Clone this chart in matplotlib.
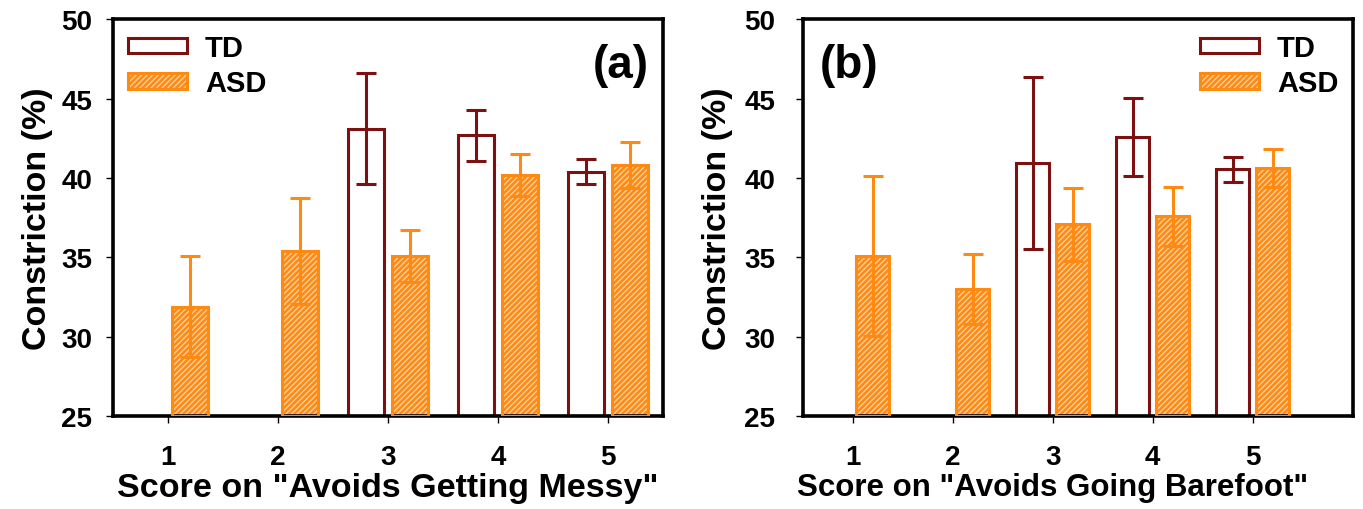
import numpy as np
import matplotlib
matplotlib.use("Agg")
import matplotlib.pyplot as plt
from matplotlib.patches import Patch

plt.rcParams['font.family'] = ['Liberation Sans', 'DejaVu Sans']
plt.rcParams['font.weight'] = 'bold'
plt.rcParams['hatch.linewidth'] = 1.0

# scores on the x axis
scores = [1, 2, 3, 4, 5]

# panel (a): Avoids Getting Messy
td_a = [np.nan, np.nan, 43.1, 42.7, 40.4]
td_a_err = [0, 0, 3.5, 1.6, 0.8]
asd_a = [31.9, 35.4, 35.1, 40.2, 40.8]
asd_a_err = [3.2, 3.35, 1.65, 1.3, 1.45]

# panel (b): Avoids Going Barefoot
td_b = [np.nan, np.nan, 40.95, 42.6, 40.55]
td_b_err = [0, 0, 5.4, 2.45, 0.77]
asd_b = [35.1, 33.0, 37.1, 37.6, 40.65]
asd_b_err = [5.05, 2.2, 2.3, 1.85, 1.2]

td_col = '#7d1111'
asd_col = '#ff8a12'
hatch_col = '#ffcf9e'

fig = plt.figure(figsize=(13.63, 5.10), dpi=100)
ax_a = fig.add_axes([0.0829, 0.182, 0.4035, 0.778])
ax_b = fig.add_axes([0.589, 0.182, 0.4035, 0.778])


def draw(ax, td, td_err, asd, asd_err, xlabel, tag, legend_loc, tag_x, tag_ha,
         xmax, xl_size, ypad, ylpad):
    x = np.array(scores, dtype=float)
    w = 0.33
    td = np.array(td)
    ok = ~np.isnan(td)
    ax.bar(x[ok] - 0.2, td[ok] - 25, w, bottom=25, facecolor='white',
           edgecolor=td_col, linewidth=2.2, zorder=2)
    ax.errorbar(x[ok] - 0.2, td[ok], yerr=np.array(td_err)[ok], fmt='none',
                ecolor=td_col, elinewidth=2.2, capsize=7, capthick=2.2, zorder=4)
    asd = np.array(asd)
    ax.bar(x + 0.2, asd - 25, w, bottom=25, facecolor=asd_col,
           edgecolor=hatch_col, hatch='//////', linewidth=0, zorder=2)
    ax.bar(x + 0.2, asd - 25, w, bottom=25, fill=False,
           edgecolor=asd_col, linewidth=2.2, zorder=3)
    ax.errorbar(x + 0.2, asd, yerr=asd_err, fmt='none',
                ecolor=asd_col, elinewidth=2.2, capsize=7, capthick=2.2, zorder=4)

    ax.set_xlim(0.5, xmax)
    ax.set_ylim(25, 50)
    ax.set_xticks(scores)
    ax.set_yticks([25, 30, 35, 40, 45, 50])
    ax.tick_params(axis='both', direction='out', length=5, width=1, labelsize=20)
    ax.tick_params(axis='x', pad=15)
    ax.tick_params(axis='y', pad=ypad)
    for s in ax.spines.values():
        s.set_linewidth(2.6)
    ax.set_xlabel(xlabel, fontsize=xl_size, fontweight='bold')
    # centre the x label under the score range 0.5 to 5.5
    ax.xaxis.set_label_coords((3 - 0.5) / (xmax - 0.5), -0.14, transform=ax.transAxes)
    ax.xaxis.label.set_va('top')
    ax.set_ylabel('Constriction (%)', fontsize=24.5, fontweight='bold', labelpad=ylpad)

    h_td = Patch(facecolor='white', edgecolor=td_col, linewidth=2.2)
    h_asd = (Patch(facecolor=asd_col, edgecolor=hatch_col, hatch='//////', linewidth=0),
             Patch(fill=False, edgecolor=asd_col, linewidth=2.2))
    ax.legend([h_td, h_asd], ['TD', 'ASD'], loc=legend_loc, frameon=False,
              fontsize=21, handlelength=2.05, handleheight=0.45,
              labelspacing=0.25, handletextpad=0.6, borderaxespad=0.3,
              borderpad=0.2)
    ax.text(tag_x, 0.885, tag, transform=ax.transAxes, ha=tag_ha, va='center',
            fontsize=33, fontweight='bold')


draw(ax_a, td_a, td_a_err, asd_a, asd_a_err,
     'Score on "Avoids Getting Messy"', '(a)', 'upper left', 0.975, 'right',
     5.5, 24.5, 10, 6)
draw(ax_b, td_b, td_b_err, asd_b, asd_b_err,
     'Score on "Avoids Going Barefoot"', '(b)', 'upper right', 0.03, 'left',
     6.0, 22.5, 15, 8)

fig.savefig('out.png', dpi=100)
